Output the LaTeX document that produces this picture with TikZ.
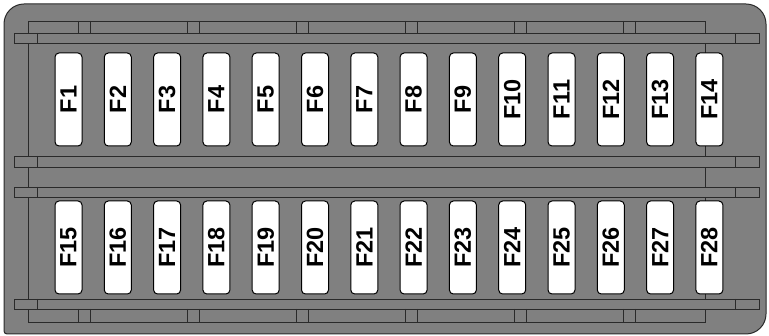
\documentclass[tikz,border=0pt]{standalone}
\usepackage{fontspec}
\setmainfont{Liberation Sans}
\usepackage{xcolor}
\usepackage{tikz}
\usetikzlibrary{calc,positioning}

\definecolor{casegray}{HTML}{808080}
\definecolor{edgegray}{HTML}{2A2A2A}

\tikzset{
    bar/.style={draw=edgegray, fill=casegray, line width=0.9pt},
    fuse/.style={draw=black, fill=white, line width=1pt, rounded corners=4pt,
        minimum width=27pt, minimum height=93pt, inner sep=0pt,
        font=\fontsize{23.5}{25}\selectfont\bfseries}
}

\begin{document}
\begin{tikzpicture}[x=1pt, y=-1pt]
    \useasboundingbox (0,0) rectangle (769,336);

    % Gehaeuse
    \draw[bar, line width=1pt] (4,180) [rounded corners=20pt] -- (4,4) -- (766,4)
        -- (766,334) [rounded corners=3pt] -- (4,334) [rounded corners=20pt] -- cycle;

    % Binnenrand
    \draw[bar] (28,33) rectangle (705,309);
    \draw[bar] (28,167) rectangle (705,187);

    % Rails boven
    \draw[bar] (28,21) rectangle (705,33);
    \draw[bar] (14,33) rectangle (759,43);
    % Rails midden
    \draw[bar] (14,156) rectangle (759,167);
    \draw[bar] (14,187) rectangle (759,197);
    % Rails onder
    \draw[bar] (14,299) rectangle (759,309);
    \draw[bar] (28,309) rectangle (705,322);

    % Eindstukken
    \foreach \y/\h in {33/43, 156/167, 187/197, 299/309} {
        \draw[edgegray, line width=0.9pt] (37,\y) -- (37,\h);
        \draw[edgegray, line width=0.9pt] (735,\y) -- (735,\h);
    }

    % Klemmen
    \foreach \i in {0,...,5} {
        \draw[edgegray, line width=0.9pt] ({78+109*\i},21) -- ({78+109*\i},33);
        \draw[edgegray, line width=0.9pt] ({90.5+109*\i},21) -- ({90.5+109*\i},33);
        \draw[edgegray, line width=0.9pt] ({78+109*\i},309) -- ({78+109*\i},322);
        \draw[edgegray, line width=0.9pt] ({90.5+109*\i},309) -- ({90.5+109*\i},322);
    }

    % Zekeringen
    \foreach \n in {1,...,14} {
        \node[fuse] (f\n) at ({68.5+49.3*(\n-1)},99.5) {\rotatebox{90}{F\n}};
    }
    \foreach \n in {15,...,28} {
        \node[fuse] (f\n) at ({68.5+49.3*(\n-15)},247.5) {\rotatebox{90}{F\n}};
    }

\end{tikzpicture}
\end{document}
